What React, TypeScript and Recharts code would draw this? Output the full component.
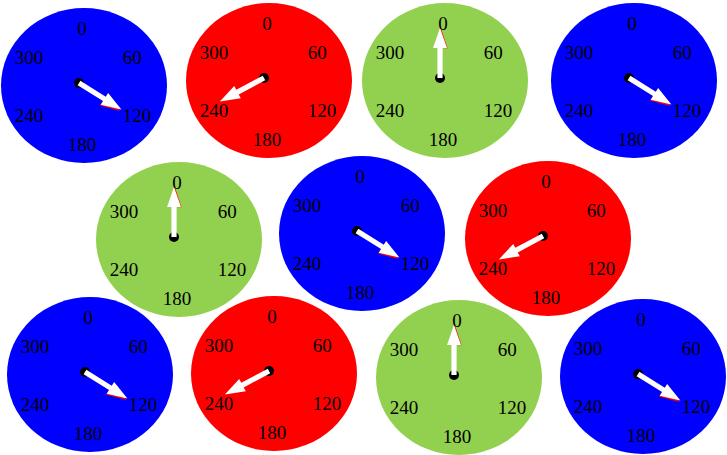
import { RadialBarChart, RadialBar, PolarAngleAxis } from 'recharts'

// compass ticks, degrees
const tickValues = [0, 60, 120, 180, 240, 300]

// white needle reading of each dial (row by row)
const needleValues = [122, 242, 0, 122, 0, 122, 242, 122, 242, 0, 122]
// red marker needle that peeks out under the white one
const markerValues = [124, 244, 1, 124, 1, 124, 244, 124, 244, 1, 124]

const dialColors = [
  '#0000FF', '#FF0000', '#92D050', '#0000FF',
  '#92D050', '#0000FF', '#FF0000',
  '#0000FF', '#FF0000', '#92D050', '#0000FF',
]

// hub position of each dial on the page
const hubs = [
  [79, 83], [264, 78], [440, 78], [629, 78],
  [174, 237], [357, 231], [543, 236],
  [85, 372], [269, 371], [454, 375], [638, 374],
]

const W = 170
const H = 162
const CX = 80
const CY = 80
const RAD = Math.PI / 180
const FONT = '"Liberation Serif", "Times New Roman", serif'

function needlePath(cx: number, cy: number, angle: number, sw: number) {
  const ux = Math.cos(-angle * RAD)
  const uy = Math.sin(-angle * RAD)
  const px = -uy
  const py = ux
  const L = 50
  const head = 20
  const hw = 7
  const pt = (a: number, b: number) => `${cx + ux * a + px * b},${cy + uy * a + py * b}`
  return `M${pt(0, -sw)} L${pt(L - head, -sw)} L${pt(L - head, -hw)} L${pt(L, 0)} L${pt(L - head, hw)} L${pt(L - head, sw)} L${pt(0, sw)} Z`
}

function MarkerNeedle(props: any) {
  const { cx, cy, endAngle } = props
  return <path d={needlePath(cx, cy, endAngle, 1)} fill="#FF0000" />
}

function WhiteNeedle(props: any) {
  const { cx, cy, endAngle } = props
  return (
    <g>
      <circle cx={cx} cy={cy} r={5} fill="#000" />
      <path d={needlePath(cx, cy, endAngle, 2.6)} fill="#fff" />
    </g>
  )
}

function DialFace({ color }: { color: string }) {
  return <ellipse cx={CX + 5} cy={CY + 2.5} rx={83} ry={77.5} fill={color} />
}

function DialTick(props: any) {
  const { payload } = props
  const cx = props.cx ?? CX
  const cy = props.cy ?? CY
  const dx = Math.cos(-payload.coordinate * RAD)
  const dy = Math.sin(-payload.coordinate * RAD)
  let anchor: 'start' | 'end' | 'middle' = 'middle'
  let x = cx + 3
  if (dx > 0.01) {
    anchor = 'start'
    x = cx + 4 + 46 * dx
  } else if (dx < -0.01) {
    anchor = 'end'
    x = cx + 4 + 46 * dx
  }
  const y = cy + 3.5 + 58 * dy
  return (
    <text x={x} y={y} dy="0.34em" textAnchor={anchor} fill="#000" fontSize={19} fontFamily={FONT}>
      {payload.value}
    </text>
  )
}

function Dial({ value, marker, color }: { value: number; marker: number; color: string }) {
  const data = [{ name: 'dial', value, marker }]
  return (
    <RadialBarChart
      width={W}
      height={H}
      cx={CX}
      cy={CY}
      innerRadius={0}
      outerRadius={60}
      startAngle={90}
      endAngle={-270}
      data={data}
      margin={{ top: 0, right: 0, bottom: 0, left: 0 }}
    >
      <DialFace color={color} />
      <RadialBar dataKey="marker" isAnimationActive={false} shape={MarkerNeedle} />
      <RadialBar dataKey="value" isAnimationActive={false} shape={WhiteNeedle} />
      <PolarAngleAxis
        type="number"
        domain={[0, 360]}
        ticks={tickValues}
        axisLine={false}
        tickLine={false}
        tick={DialTick}
      />
    </RadialBarChart>
  )
}

export default function App() {
  return (
    <div style={{ position: 'absolute', left: 0, top: 0, width: 727, height: 455, overflow: 'hidden', background: '#fff' }}>
      {needleValues.map((v, i) => (
        <div key={i} style={{ position: 'absolute', left: hubs[i][0] - CX, top: hubs[i][1] - CY, width: W, height: H }}>
          <Dial value={v} marker={markerValues[i]} color={dialColors[i]} />
        </div>
      ))}
    </div>
  )
}
